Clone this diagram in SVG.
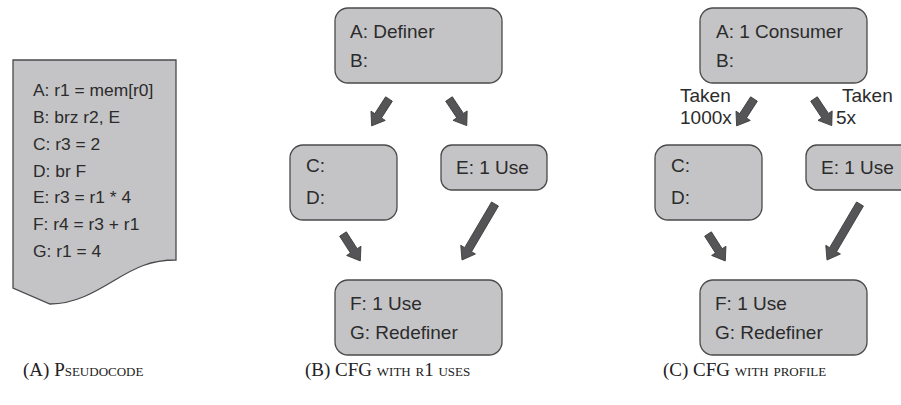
<svg xmlns="http://www.w3.org/2000/svg" width="901" height="405" viewBox="0 0 901 405">
  <style>
    .box { fill: #c4c4c6; stroke: #4a4a4a; stroke-width: 1.3; }
    .txt { font-family: "Liberation Sans", Arial, sans-serif; font-size: 19px; fill: #2b2b2b; }
    .code { font-family: "Liberation Sans", Arial, sans-serif; font-size: 17.4px; fill: #2b2b2b; }
    .cap { font-family: "Liberation Serif", "Times New Roman", serif; font-size: 19px; font-variant: small-caps; fill: #222; }
    .arrow { fill: #555557; stroke: #3a3a3a; stroke-width: 0.8; stroke-linejoin: miter; }
  </style>
  <defs>
    <!-- block arrows pointing along +x, tail at the origin -->
    <path id="arrowShort" d="M0,-4 L20,-4 L20,-8.5 L32,0 L20,8.5 L20,4 L0,4 Z"/>
    <path id="arrowLong" d="M0,-4 L53,-4 L53,-8.5 L65,0 L53,8.5 L53,4 L0,4 Z"/>
  </defs>

  <rect width="901" height="405" fill="#ffffff"/>

  <!-- (a) pseudocode listing -->
  <g id="pseudocode">
    <path class="box" d="M13,60 H176 V260 C150,260 135,268 115,280 C95,292 75,304 50,304 L13,288 Z"/>
    <text class="code" x="33" y="96">A: r1 = mem[r0]</text>
    <text class="code" x="33" y="123">B: brz r2, E</text>
    <text class="code" x="33" y="150">C: r3 = 2</text>
    <text class="code" x="33" y="177">D: br F</text>
    <text class="code" x="33" y="203">E: r3 = r1 * 4</text>
    <text class="code" x="33" y="230">F: r4 = r3 + r1</text>
    <text class="code" x="33" y="257">G: r1 = 4</text>
  </g>

  <!-- (b) CFG with r1 uses -->
  <g id="b-AB">
    <rect class="box" x="335" y="8" width="167" height="75" rx="13"/>
    <text class="txt" x="350" y="37.5">A: Definer</text>
    <text class="txt" x="350" y="66.5">B:</text>
  </g>
  <g id="b-CD">
    <rect class="box" x="290" y="145" width="107" height="75" rx="13"/>
    <text class="txt" x="306" y="172">C:</text>
    <text class="txt" x="306" y="204">D:</text>
  </g>
  <g id="b-E">
    <rect class="box" x="441" y="145" width="106" height="45" rx="11"/>
    <text class="txt" x="456" y="173.5">E: 1 Use</text>
  </g>
  <g id="b-FG">
    <rect class="box" x="335" y="280" width="167" height="75" rx="13"/>
    <text class="txt" x="350" y="309.5">F: 1 Use</text>
    <text class="txt" x="350" y="339">G: Redefiner</text>
  </g>

  <!-- (c) CFG with profile -->
  <g id="c-AB">
    <rect class="box" x="700" y="8" width="167" height="75" rx="13"/>
    <text class="txt" x="716" y="37.5">A: 1 Consumer</text>
    <text class="txt" x="716" y="66.5">B:</text>
  </g>
  <g id="c-CD">
    <rect class="box" x="655" y="145" width="107" height="75" rx="13"/>
    <text class="txt" x="671" y="172">C:</text>
    <text class="txt" x="671" y="204">D:</text>
  </g>
  <g id="c-E">
    <rect class="box" x="806" y="145" width="106" height="45" rx="11"/>
    <text class="txt" x="821" y="173.5">E: 1 Use</text>
  </g>
  <g id="c-FG">
    <rect class="box" x="700" y="280" width="167" height="75" rx="13"/>
    <text class="txt" x="715" y="309.5">F: 1 Use</text>
    <text class="txt" x="715" y="339">G: Redefiner</text>
  </g>

  <!-- connectors -->
  <g id="connectors" class="arrow">
    <use href="#arrowShort" transform="translate(389,99) rotate(122.9)"/>
    <use href="#arrowShort" transform="translate(449,99) rotate(56.3)"/>
    <use href="#arrowShort" transform="translate(343,234) rotate(57.3)"/>
    <use href="#arrowLong" transform="translate(495,204) rotate(120.5)"/>

    <use href="#arrowShort" transform="translate(754,99) rotate(122.9)"/>
    <use href="#arrowShort" transform="translate(814,99) rotate(56.3)"/>
    <use href="#arrowShort" transform="translate(708,234) rotate(57.3)"/>
    <use href="#arrowLong" transform="translate(860,204) rotate(120.5)"/>
  </g>

  <!-- edge labels -->
  <g id="edge-labels">
    <text class="txt" x="680" y="102">Taken</text>
    <text class="txt" x="680" y="124">1000x</text>
    <text class="txt" x="842" y="102">Taken</text>
    <text class="txt" x="836" y="124">5x</text>
  </g>

  <!-- captions -->
  <g id="captions">
    <text class="cap" x="23" y="376">(A) Pseudocode</text>
    <text class="cap" x="305" y="376">(B) CFG with r1 uses</text>
    <text class="cap" x="663" y="376">(C) CFG with profile</text>
  </g>
</svg>
